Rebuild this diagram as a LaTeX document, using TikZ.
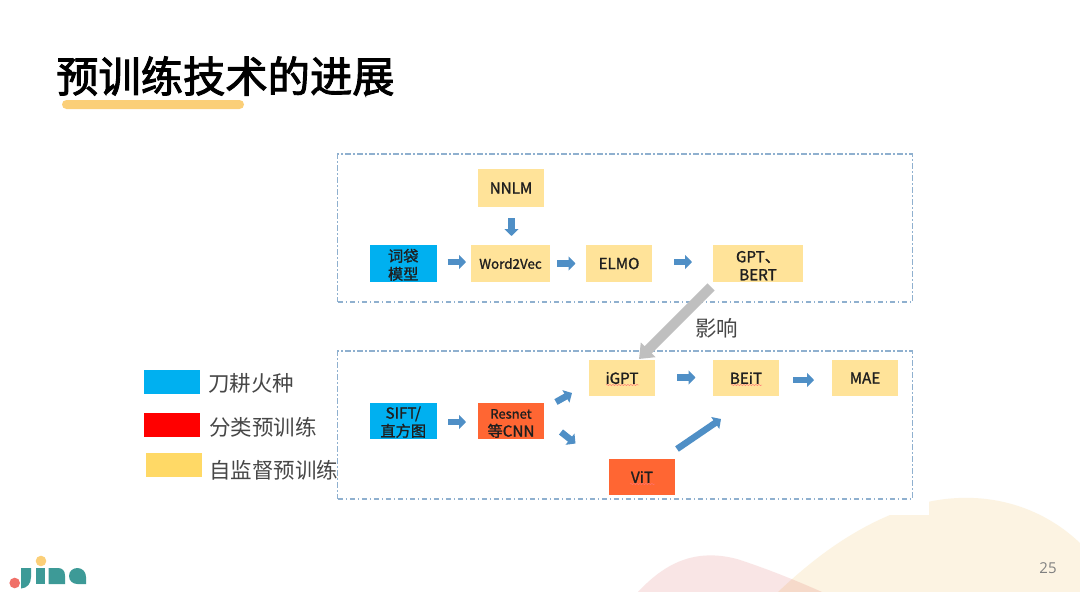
\documentclass[tikz,border=0pt]{standalone}
\usepackage{fontspec}
\usetikzlibrary{arrows.meta,decorations.pathmorphing,calc}
\newfontfamily\cjk{Noto Sans CJK SC}
\newfontfamily\cjkm[FakeBold=1.3]{Noto Sans CJK SC}
\newfontfamily\cjkt[FakeBold=2.2]{Noto Sans CJK SC}
\newfontfamily\pagefont{Open Sans}
\definecolor{paleY}{HTML}{FFE399}
\definecolor{legY}{HTML}{FFD966}
\definecolor{skyB}{HTML}{00B0F0}
\definecolor{orangeR}{HTML}{FF6633}
\definecolor{dashB}{HTML}{8FB0CF}
\definecolor{arrowB}{HTML}{4F8FC6}
\definecolor{teal}{HTML}{3D9A97}
\definecolor{bgPink}{HTML}{F9E5E5}
\definecolor{bgCream}{HTML}{FCF3E2}
\tikzset{
  x=1pt,y=-1pt,
  box/.style={inner sep=0pt,outer sep=0pt,align=center,text=black!88,font=\cjkm\fontsize{15.2}{18}\selectfont},
  ybox/.style={box,fill=paleY},
  bbox/.style={box,fill=skyB},
  obox/.style={box,fill=orangeR},
  frame/.style={draw=dashB,line width=1.3pt,dash pattern=on 5.5pt off 2.5pt on 1.5pt off 2.5pt},
  blockarrow/.style={draw=arrowB,line width=6.5pt,-{Triangle[length=7pt,width=14pt]}},
  bigarrow/.style={draw=black!25,line width=10pt,-{Triangle[length=13pt,width=20pt]}},
  legbox/.style={inner sep=0pt,outer sep=0pt},
  legtext/.style={inner sep=0pt,anchor=west,text=black!72,font=\cjk\fontsize{21.5}{24}\selectfont},
  wavy/.style={draw=red!55,line width=.45pt,decorate,decoration={snake,amplitude=.6pt,segment length=3pt}},
}
\newcommand{\bx}[6]{\node[#1,minimum width=#4-#3,minimum height=#6-#5] (#2) at ({(#3+#4)/2},{(#5+#6)/2})}
\newcommand{\pad}{\rule{0pt}{15.5pt}}
\begin{document}
\begin{tikzpicture}
\useasboundingbox (0,0) rectangle (1080,592);
\fill[white] (0,0) rectangle (1080,592);
% background shapes
\fill[blend mode=multiply,fill=bgPink] (638,592) .. controls (665,563) and (695,548) .. (737,559) .. controls (765,568) and (795,580) .. (822,592) -- cycle;
\fill[blend mode=multiply,fill=bgCream] (778,592) .. controls (815,557) and (850,532) .. (890,515) -- (929,515) -- (929,501.7) .. controls (985,490) and (1040,505) .. (1080,543) -- (1080,592) -- cycle;
% title
\node[inner sep=0pt,anchor=west,text=black,font=\cjkt\fontsize{42.3}{46}\selectfont] (title) at (56,76) {预训练技术的进展};
\fill[rounded corners=4.5pt,fill={rgb,255:red,251;green,207;blue,120}] (62,100) rectangle (244,109);
% frames
\node[frame,inner sep=0pt,minimum width=574.5pt,minimum height=148pt] (top) at (625,228) {};
\node[frame,inner sep=0pt,minimum width=574.5pt,minimum height=148pt] (bot) at (625,425) {};
% top row
\bx{ybox}{nnlm}{478}{544}{169}{207} {NNLM};
\bx{bbox}{bow}{370}{436.5}{245}{282} {\pad 词袋\\模型};
\bx{ybox}{w2v}{471}{550}{245}{282} {\fontsize{13.4}{16}\selectfont Word2Vec};
\bx{ybox}{elmo}{586}{652}{245}{282} {ELMO};
\bx{ybox}{gpt}{713}{803}{245}{282} {\pad GPT、\\BERT};
% bottom row
\bx{bbox}{sift}{370}{436.5}{402.5}{438.5} {\pad SIFT/\\直方图};
\bx{obox}{resnet}{478}{544}{402.5}{438.5} {\fontsize{13}{16}\selectfont\pad Resnet\\等CNN};
\bx{ybox}{igpt}{589}{655}{360}{396} {iGPT};
\bx{ybox}{beit}{713}{779}{360}{396} {BEiT};
\bx{ybox}{mae}{832}{898}{360}{396} {MAE};
\bx{obox}{vit}{609}{675}{459}{495} {ViT};
% spell-check marks
\coordinate (ig1) at (606,385); \coordinate (ig2) at (639,385);
\coordinate (be1) at (731,385); \coordinate (be2) at (762,385);
\coordinate (vi1) at (630,484); \coordinate (vi2) at (655,484);
\draw[wavy] (ig1) -- (ig2);
\draw[wavy] (be1) -- (be2);
\draw[wavy] (vi1) -- (vi2);
% arrow ends
\coordinate (a1s) at (447.5,262); \coordinate (a1e) at (466,262);
\coordinate (a2s) at (557,263.5); \coordinate (a2e) at (575.5,263.5);
\coordinate (a3s) at (674,262); \coordinate (a3e) at (692,262);
\coordinate (a4s) at (511.5,218); \coordinate (a4e) at (511.5,236);
\coordinate (a5s) at (448,422); \coordinate (a5e) at (466,422);
\coordinate (a6s) at (556,402); \coordinate (a6e) at (572,393);
\coordinate (a7s) at (561,432); \coordinate (a7e) at (575.5,443.5);
\coordinate (a8s) at (677,377.5); \coordinate (a8e) at (695.5,377.5);
\coordinate (a9s) at (793,380); \coordinate (a9e) at (814,380);
\coordinate (a10s) at (677,449); \coordinate (a10e) at (721,419);
\coordinate (gs) at (711,287); \coordinate (ge) at (639,359);
\draw[blockarrow] (a1s) -- (a1e);
\draw[blockarrow] (a2s) -- (a2e);
\draw[blockarrow] (a3s) -- (a3e);
\draw[blockarrow] (a4s) -- (a4e);
\draw[blockarrow] (a5s) -- (a5e);
\draw[blockarrow] (a6s) -- (a6e);
\draw[blockarrow] (a7s) -- (a7e);
\draw[blockarrow] (a8s) -- (a8e);
\draw[blockarrow] (a9s) -- (a9e);
\draw[blockarrow] (a10s) -- (a10e);
\draw[bigarrow] (gs) -- (ge);
\node[legtext] (infl) at (695,328) {影响};
% legend
\bx{legbox,fill=skyB}{lb}{144}{200}{369.5}{393.5} {};
\bx{legbox,fill=red}{lr}{144}{200}{413}{437} {};
\bx{legbox,fill=legY}{ly}{146}{202}{453}{477} {};
\node[legtext] (lt1) at (208,383) {刀耕火种};
\node[legtext] (lt2) at (209,427) {分类预训练};
\node[legtext] (lt3) at (209,470.5) {自监督预训练};
% page number
\node[inner sep=0pt,text=black!50,font=\pagefont\fontsize{15}{18}\selectfont] (pg) at (1048,568.5) {25};
% logo
\fill[fill={rgb,255:red,240;green,112;blue,104}] (14.7,583) circle (5.3);
\fill[fill={rgb,255:red,251;green,207;blue,120}] (41,561) circle (5.3);
\fill[teal] (21,568) -- (31,568) -- (31,577) .. controls (31,584) and (27,588) .. (21,588.5) -- cycle;
\fill[teal] (35.5,568) rectangle (45,584);
\fill[teal] (48.5,584) -- (48.5,568) -- (58,568) .. controls (62.5,568) and (65,571) .. (65,575.5) -- (65,584) -- cycle;
\fill[teal] (69,576) .. controls (69,571) and (73,568) .. (77.5,568) .. controls (82.5,568) and (86,572) .. (86,577) -- (86,584) -- (77.5,584) .. controls (73,584) and (69,581) .. (69,576) -- cycle;
\end{tikzpicture}
\end{document}
